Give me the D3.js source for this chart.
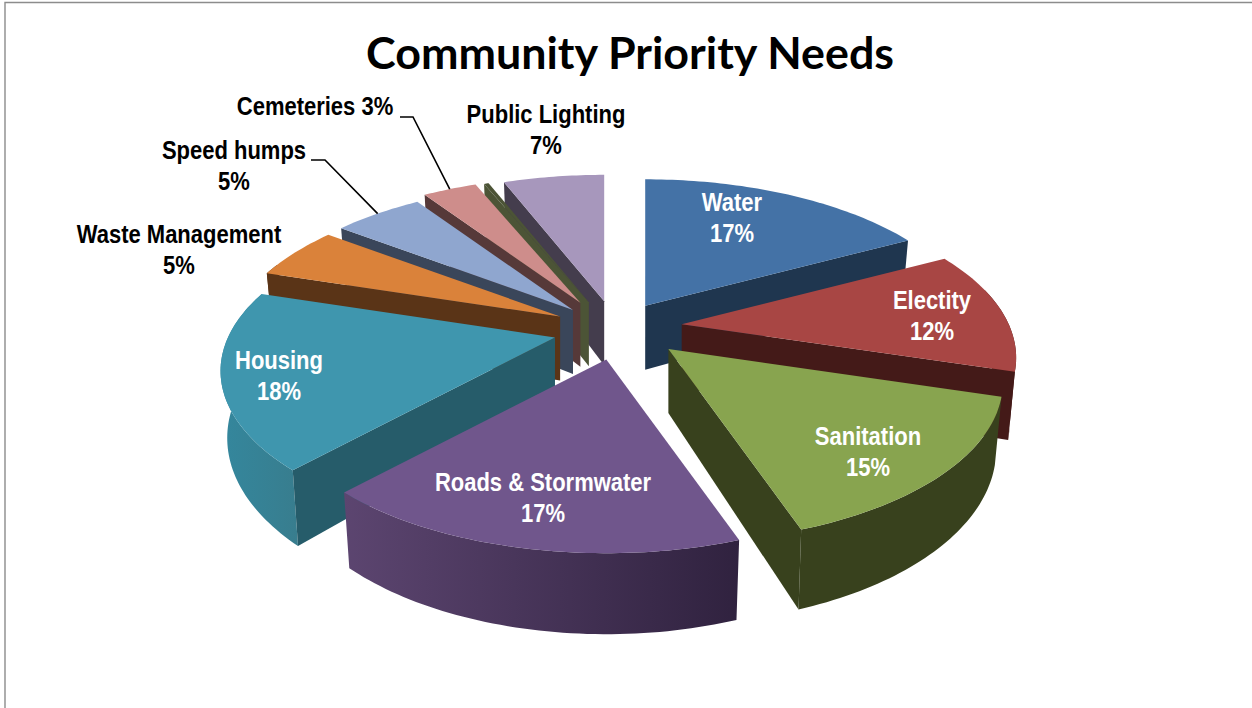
<!DOCTYPE html>
<html>
<head>
<meta charset="utf-8">
<title>Community Priority Needs</title>
<script src="https://cdn.jsdelivr.net/npm/d3@7"></script>
<style>
  html, body { margin: 0; padding: 0; background: #fff; overflow: hidden; }
  text { font-family: "Liberation Sans", sans-serif; font-weight: 700; }
</style>
</head>
<body>
<svg id="chart" width="1252" height="708"></svg>
<script>
// Survey results, clockwise from twelve o'clock
const categories = ["Water", "Electity", "Sanitation", "Roads & Stormwater", "Housing",
                    "Waste Management", "Speed humps", "Cemeteries", "Other", "Public Lighting"];
const shares = [17, 12, 15, 17, 18, 5, 5, 3, 1, 7];

// Per-slice styling
const topColors  = ["#4472a6", "#a84644", "#88a44f", "#70568c", "#3f96ae",
                    "#da823a", "#8fa6cf", "#ce8d8b", "#4c5436", "#a797bc"];
const wallColors = ["#1f364f", "#441a18", "#38411d", "#3c2c50", "#265c6a",
                    "#5a3417", "#3a465a", "#563939", "#4c5436", "#443d4d"];
const rimLeft    = ["#1f364f", "#441a18", "#38411d", "#5c4570", "#34879d",
                    "#5a3417", "#3a465a", "#563939", "#4c5436", "#443d4d"];
const rimRight   = ["#1f364f", "#441a18", "#38411d", "#30223f", "#387d8e",
                    "#5a3417", "#3a465a", "#563939", "#4c5436", "#443d4d"];
const explode    = [0.17, 0.20, 0.21, 0.21, 0.20, 0.19, 0.18, 0.20, 0.19, 0.18];

// Which slices get a caption, and how it is set
const labelColors = ["#fff", "#fff", "#fff", "#fff", "#fff", "#000", "#000", "#000", null, "#000"];
const labelAnchor = [[732, 211], [932, 309], [868, 445], [543, 491], [279, 369],
                     [179, 243], [234, 159], [315, 115], null, [546, 123]];
const sameLine    = [false, false, false, false, false, false, false, true, false, false];
const leaderStart = [null, null, null, null, null, null, [[311, 160], [325, 160]],
                     [[400, 117], [413, 117]], null, null];

// Camera: oblique view with foreshortening toward the back of the disc
const centerX = 617, centerY = 328;
const radiusX = 327, radiusY = 153, perspective = 0.21;
const explodeX = 326, explodeY = 152;
const thickness = 64, bottomShrink = 0.98;

// Lens correction of the pie angle, in degrees
const lensIn  = [0, 61.2, 104.4, 158.4, 219.6, 284.4, 302.4, 320.4, 331.2, 334.8, 360];
const lensOut = [0, 62, 107, 161, 222.7, 287.5, 307, 326, 337.5, 338.5, 360];
const lens = d3.scaleLinear().domain(lensIn).range(lensOut);
const rad = Math.PI / 180;

const project = a => {
  const v = lens(a / rad) * rad;
  const s = 1 / (1 + perspective * Math.cos(v));
  return [radiusX * Math.sin(v) * s, -radiusY * Math.cos(v) * s, s];
};

const slices = d3.pie().sort(null).value(d => d)(shares).map((d, i) => {
  const mid = (d.startAngle + d.endAngle) / 2;
  const apex = [
    centerX + explode[i] * explodeX * Math.sin(mid),
    centerY - explode[i] * explodeY * Math.cos(mid)
  ];
  return { i, a0: d.startAngle, a1: d.endAngle, mid, apex };
});

const topPoint = (sl, a) => {
  const p = project(a);
  return [sl.apex[0] + p[0], sl.apex[1] + p[1]];
};
const bottomPoint = (sl, a) => {
  const p = project(a);
  return [sl.apex[0] + p[0] * bottomShrink, sl.apex[1] + p[1] + thickness * p[2]];
};
const apexBottom = sl => [sl.apex[0], sl.apex[1] + thickness];

const arcAngles = (from, to) => {
  const n = Math.max(2, Math.ceil((to - from) / 0.02));
  return d3.range(n + 1).map(k => from + (to - from) * k / n);
};

const line = d3.line().curve(d3.curveLinear);
const svg = d3.select("#chart");
const defs = svg.append("defs");

// Thin frame along the top and left
svg.append("path")
  .attr("d", line([[5, 708], [5, 2.5], [1252, 2.5]]))
  .attr("fill", "none").attr("stroke", "#8c8c8c").attr("stroke-width", 1.4);

svg.append("text")
  .attr("x", 630).attr("y", 69)
  .attr("text-anchor", "middle")
  .style("font-family", "Lato, sans-serif")
  .style("font-size", "44.8px")
  .attr("fill", "#000")
  .text("Community Priority Needs");

// Back-to-front painting order
const paintOrder = [9, 8, 7, 6, 5, 0, 1, 4, 2, 3];
const pie3d = svg.append("g");
const rimFrom = 75 * rad, rimTo = 288 * rad;

paintOrder.forEach(i => {
  const sl = slices[i];
  const g = pie3d.append("g");

  // Outer rim facing the viewer
  const from = Math.max(sl.a0, rimFrom), to = Math.min(sl.a1, rimTo);
  if (to > from) {
    const angles = arcAngles(from, to);
    const upper = angles.map(a => topPoint(sl, a));
    const lower = angles.map(a => bottomPoint(sl, a)).reverse();
    const xs = upper.concat(lower).map(p => p[0]);
    const gradX = d3.scaleLinear().domain([0, 1]).range(d3.extent(xs));
    const gid = "rim" + i;
    const grad = defs.append("linearGradient").attr("id", gid)
      .attr("gradientUnits", "userSpaceOnUse")
      .attr("x1", gradX(0)).attr("x2", gradX(1)).attr("y1", 0).attr("y2", 0);
    grad.append("stop").attr("offset", 0).attr("stop-color", rimLeft[i]);
    grad.append("stop").attr("offset", 1).attr("stop-color", rimRight[i]);
    g.append("path").attr("d", line(upper.concat(lower)) + "Z").attr("fill", `url(#${gid})`);
  }

  // Radial cut faces that turn toward the viewer
  const wall = a => line([sl.apex, topPoint(sl, a), bottomPoint(sl, a), apexBottom(sl)]) + "Z";
  if (sl.a0 > Math.PI) g.append("path").attr("d", wall(sl.a0)).attr("fill", wallColors[i]);
  if (sl.a1 < Math.PI) g.append("path").attr("d", wall(sl.a1)).attr("fill", wallColors[i]);

  // Top face
  const rimPts = arcAngles(sl.a0, sl.a1).map(a => topPoint(sl, a));
  g.append("path").attr("d", line([sl.apex].concat(rimPts)) + "Z").attr("fill", topColors[i]);
});

// Leader lines run from the caption to the middle of the slice's outer edge
slices.forEach(sl => {
  const start = leaderStart[sl.i];
  if (!start) return;
  svg.append("path")
    .attr("d", line(start.concat([topPoint(sl, sl.mid)])))
    .attr("fill", "none").attr("stroke", "#000").attr("stroke-width", 1.6);
});

// Captions, condensed horizontally
const condense = 0.88;
categories.forEach((name, i) => {
  if (!labelAnchor[i]) return;
  const [x, y] = labelAnchor[i];
  const t = svg.append("text")
    .attr("transform", `translate(${x},${y}) scale(${condense},1)`)
    .attr("text-anchor", "middle")
    .attr("fill", labelColors[i])
    .style("font-size", "25px");
  if (sameLine[i]) {
    t.text(`${name} ${shares[i]}%`);
  } else {
    t.append("tspan").attr("x", 0).text(name);
    t.append("tspan").attr("x", 0).attr("dy", 31).text(`${shares[i]}%`);
  }
});
</script>
</body>
</html>
